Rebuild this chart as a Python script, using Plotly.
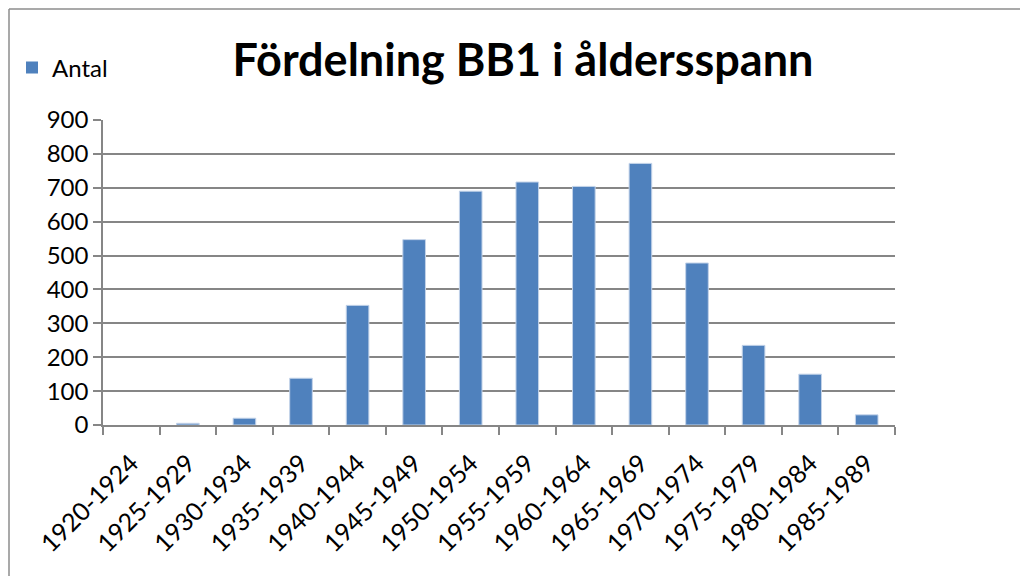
import plotly.graph_objects as go

categories = ["1920-1924", "1925-1929", "1930-1934", "1935-1939", "1940-1944",
              "1945-1949", "1950-1954", "1955-1959", "1960-1964", "1965-1969",
              "1970-1974", "1975-1979", "1980-1984", "1985-1989"]
antal = [0, 5, 20, 138, 353, 547, 690, 717, 704, 772, 478, 235, 150, 30]
y_ticks = [0, 100, 200, 300, 400, 500, 600, 700, 800, 900]

W, H = 1028, 576
OFF = 8  # page body margin
L, T = 103 - OFF, 120 - OFF
pw, ph = 792, 305
R, B = W - L - pw, H - T - ph

FONT = "Lato"
GRID = "#868686"

fig = go.Figure()
fig.add_trace(go.Bar(
    x=categories, y=antal, name="Antal",
    marker=dict(color="#4F81BD",
                line=dict(color="#C3D3E9", width=[0 if v == 0 else 1 for v in antal])),
    width=0.4,
))

def px_to_paper_x(px):
    return (px - L) / pw

def px_to_paper_y(py):
    return (H - B - py) / ph

fig.update_layout(
    width=W, height=H,
    margin=dict(l=L, r=R, t=T, b=B, autoexpand=False),
    paper_bgcolor="white", plot_bgcolor="white",
    font=dict(family=FONT, size=23, color="black"),
    title=dict(text="<b>Fördelning BB1 i åldersspann</b>",
               font=dict(family=FONT, size=45, color="black"),
               x=(523 - OFF) / W, xanchor="center", xref="container",
               y=1 - (60 - OFF) / H, yanchor="middle", yref="container"),
    showlegend=True,
    legend=dict(x=4 / W, xref="container", xanchor="left",
                y=1 - (68 - OFF) / H, yref="container", yanchor="middle",
                font=dict(family=FONT, size=24), itemwidth=30,
                bgcolor="rgba(0,0,0,0)"),
    xaxis=dict(
        type="category", showgrid=False, showline=True, linecolor=GRID, linewidth=1.5,
        ticks="outside", tickson="boundaries", ticklen=8, tickcolor=GRID, tickwidth=1.5,
        tickangle=-45, tickfont=dict(family=FONT, size=25), ticklabelstandoff=12,
        range=[-0.5, len(categories) - 0.5], automargin=False,
    ),
    yaxis=dict(
        range=[0, 900], tickvals=y_ticks, showgrid=True, gridcolor=GRID, gridwidth=1.5,
        showline=True, linecolor=GRID, linewidth=1.5, zeroline=False,
        ticks="outside", ticklen=8, tickcolor=GRID, tickwidth=1.5,
        tickfont=dict(family=FONT, size=24), automargin=False,
    ),
    bargap=0.6,
)

# outer chart border (partially visible: left and top edges)
fig.add_shape(type="line", xref="paper", yref="paper",
              x0=px_to_paper_x(1), x1=px_to_paper_x(1),
              y0=px_to_paper_y(1), y1=px_to_paper_y(H + 5),
              line=dict(color="#8C8C8C", width=1.5))
fig.add_shape(type="line", xref="paper", yref="paper",
              x0=px_to_paper_x(1), x1=px_to_paper_x(W + 5),
              y0=px_to_paper_y(1), y1=px_to_paper_y(1),
              line=dict(color="#8C8C8C", width=1.5))

fig.write_html("out.html")
